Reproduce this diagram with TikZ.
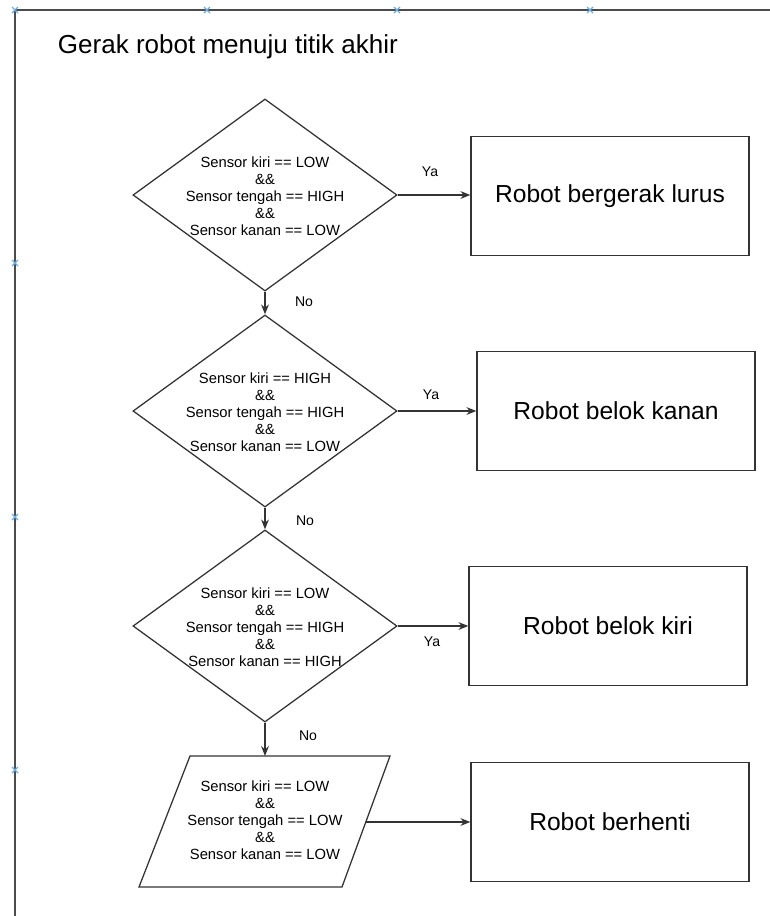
\documentclass[tikz,border=0pt]{standalone}
\usepackage{fontspec}
\setmainfont{Liberation Sans}
\usetikzlibrary{shapes.geometric}
\usetikzlibrary{arrows.meta}

\begin{document}
\begin{tikzpicture}[x=0.025cm,y=-0.025cm,>={Stealth[length=7pt,width=5.5pt]},
        line/.style={draw=black!80,line width=0.9pt},
        cond/.style={diamond,line,inner sep=0pt,minimum width=6.6cm,minimum height=4.8cm},
        condtext/.style={align=center,font=\fontsize{10.5}{12}\selectfont},
        act/.style={rectangle,line,minimum width=6.95cm,minimum height=2.975cm,
            font=\fontsize{17.5}{20}\selectfont},
        lbl/.style={font=\fontsize{10}{12}\selectfont},
        cross/.style={draw=cyan!70!blue!60,line width=0.8pt}]
            \useasboundingbox (0,0) rectangle (770,916);
            % frame of the page
            \draw[draw=black!70,line width=1.4pt] (770,10) -- (15,10) -- (15,916);
            \foreach \p in {(15,10),(207,10),(397,10),(590,10),(15,263),(15,517),(15,770)}
                \draw[cross] \p ++(-3,-3) -- ++(6,6) ++(-6,0) -- ++(6,-6);
            \node[anchor=west,font=\fontsize{18.5}{22}\selectfont] (title) at (53,47)
                {Gerak robot menuju titik akhir};
            % conditions
            \node[cond] (d1) at (265,195) {};
            \node[condtext] (t1) at (265,196) {Sensor kiri == LOW\\\&\&\\Sensor tengah == HIGH\\\&\&\\Sensor kanan == LOW};
            \node[cond] (d2) at (265,411) {};
            \node[condtext] (t2) at (265,412) {Sensor kiri == HIGH\\\&\&\\Sensor tengah == HIGH\\\&\&\\Sensor kanan == LOW};
            \node[cond] (d3) at (265,626) {};
            \node[condtext] (t3) at (265,627) {Sensor kiri == LOW\\\&\&\\Sensor tengah == HIGH\\\&\&\\Sensor kanan == HIGH};
            \draw[line] (190,756) -- (390,756) -- (342,887) -- (139,887) -- cycle;
            \coordinate (p4top) at (265,756);
            \coordinate (p4out) at (366,822);
            \node[condtext] (t4) at (265,820) {Sensor kiri == LOW\\\&\&\\Sensor tengah == LOW\\\&\&\\Sensor kanan == LOW};
            % actions
            \node[act] (b1) at (610,196) {Robot bergerak lurus};
            \node[act] (b2) at (616,411) {Robot belok kanan};
            \node[act] (b3) at (608,626) {Robot belok kiri};
            \node[act] (b4) at (610,822) {Robot berhenti};
            % connectors
            \foreach \a/\b in {d1/b1,d2/b2,d3/b3}
                \draw[line,->] (\a.east) -- (\a.east -| \b.west);
            \draw[line,->] (p4out) -- (p4out -| b4.west);
            \draw[line,->] (d1.south) -- (d2.north);
            \draw[line,->] (d2.south) -- (d3.north);
            \draw[line,->] (d3.south) -- (p4top);
            \foreach \x/\y [count=\i] in {430/172,431/395,432/642}
                \node[lbl] (ya\i) at (\x,\y) {Ya};
            \foreach \x/\y [count=\i] in {304/302,305/521,308/736}
                \node[lbl] (no\i) at (\x,\y) {No};
\end{tikzpicture}
\end{document}
